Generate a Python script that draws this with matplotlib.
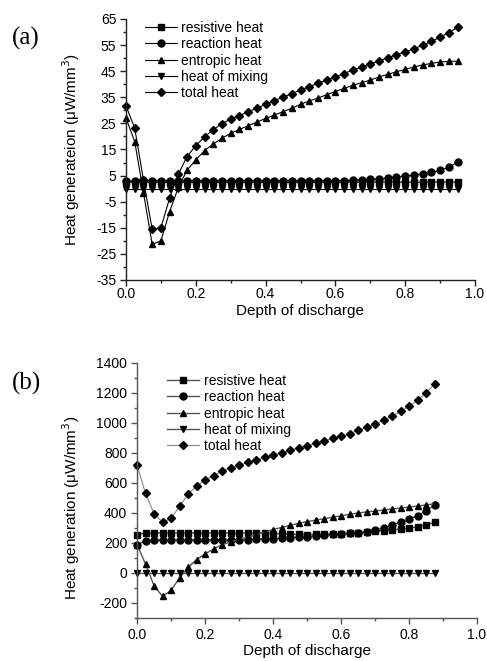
import numpy as np
import matplotlib
matplotlib.use("Agg")
import matplotlib.pyplot as plt
from matplotlib.ticker import MultipleLocator

plt.rcParams['font.family'] = ['Liberation Sans', 'DejaVu Sans']
plt.rcParams['axes.unicode_minus'] = False

# ---------------- Panel (a) data ----------------
dod_a = [round(0.025 * i, 3) for i in range(39)]
resistive_a = [2.6] + [2.5] * 38
reaction_a = [2.8, 3.0, 3.4, 3.0, 3.0, 3.0, 3.0, 3.0, 3.0, 3.0,
              3.0, 3.0, 3.0, 3.0, 3.0, 3.0, 3.0, 3.0, 3.0, 3.0,
              3.0, 3.0, 3.0, 3.0, 3.0, 3.1, 3.2, 3.4, 3.6, 3.8,
              4.1, 4.5, 4.8, 5.2, 5.7, 6.2, 7.0, 8.2, 10.2]
entropic_a = [27.0, 18.0, -1.5, -21.3, -20.0, -8.8, 0.5, 7.1, 11.0, 14.6,
              17.1, 19.3, 21.2, 22.7, 24.1, 25.5, 26.9, 28.2, 29.5, 30.8,
              32.3, 33.6, 34.7, 36.0, 37.2, 38.4, 39.6, 40.6, 41.6, 42.8,
              43.8, 44.8, 45.7, 46.6, 47.4, 48.0, 48.5, 48.8, 48.8]
mixing_a = [0.0] * 39
total_a = [31.7, 23.2, 3.3, -15.6, -15.0, -3.6, 5.6, 12.3, 16.5, 19.8,
           22.6, 24.9, 26.7, 28.0, 29.4, 30.8, 32.3, 33.7, 35.1, 36.4,
           37.8, 39.1, 40.4, 41.6, 42.9, 44.1, 45.5, 46.6, 47.8, 48.9,
           50.2, 51.3, 52.4, 53.6, 54.9, 56.4, 58.0, 59.8, 61.8]

# ---------------- Panel (b) data ----------------
dod_b = [round(0.025 * i, 3) for i in range(36)]
resistive_b = [255, 267, 267, 267, 267, 267, 267, 267, 267, 267,
               267, 267, 267, 267, 267, 265, 263, 260, 258, 257,
               256, 257, 258, 260, 262, 265, 268, 273, 278, 282,
               287, 293, 300, 307, 320, 338]
reaction_b = [190, 212, 218, 220, 220, 220, 220, 220, 220, 220,
              220, 220, 222, 223, 225, 226, 228, 231, 235, 239,
              243, 247, 252, 257, 262, 266, 270, 275, 287, 300,
              320, 340, 360, 382, 413, 452]
entropic_b = [190, 60, -84, -156, -116, -33, 38, 89, 127, 160,
              189, 207, 225, 240, 255, 270, 290, 303, 318, 331,
              342, 353, 362, 372, 381, 391, 400, 407, 413, 420,
              427, 433, 440, 447, 453, 462]
mixing_b = [0] * 36
total_b = [718, 531, 396, 338, 364, 444, 524, 580, 618, 649,
           680, 702, 720, 738, 753, 771, 787, 802, 818, 833,
           849, 864, 880, 898, 913, 929, 951, 971, 991, 1020,
           1044, 1078, 1111, 1151, 1200, 1260]

labels = ["resistive heat", "reaction heat", "entropic heat",
          "heat of mixing", "total heat"]
markers = ["s", "o", "^", "v", "D"]

W, H = 487, 661
fig = plt.figure(figsize=(W / 100, H / 100), dpi=100)


def style_axes(ax, color):
    for s in ["top", "right"]:
        ax.spines[s].set_visible(False)
    for s in ["left", "bottom"]:
        ax.spines[s].set_color(color)
        ax.spines[s].set_linewidth(1.0)
    ax.tick_params(which="both", direction="out", colors=color,
                   labelcolor="black", labelsize=10)
    ax.tick_params(which="major", length=4, width=1.0, pad=3)
    ax.tick_params(which="minor", length=2.5, width=1.0)
    ax.xaxis.set_major_locator(MultipleLocator(0.2))
    ax.xaxis.set_minor_locator(MultipleLocator(0.1))
    ax.set_xlim(0, 1.0)


# Panel (a)
ax1 = fig.add_axes([126 / W, 1 - 280 / H, (475 - 126) / W, (280 - 19) / H])
series_a = [resistive_a, reaction_a, entropic_a, mixing_a, total_a]
for ys, lab, m in zip(series_a, labels, markers):
    ax1.plot(dod_a, ys, color="black", lw=0.8, marker=m,
             ms=5 if m != "D" else 4.3, label=lab, clip_on=False)
ax1.set_ylim(-35, 65)
ax1.yaxis.set_minor_locator(MultipleLocator(5))
ax1.set_yticks(np.arange(-35, 66, 10))
style_axes(ax1, "#222222")
ax1.tick_params(axis="x", which="major", pad=1)
ax1.set_xlabel("Depth of discharge", fontsize=11, labelpad=2)
ax1.set_ylabel("Heat generateion (\u03bcW/mm$^3$)", fontsize=11)
ax1.yaxis.set_label_coords(-0.126, 0.5)
ax1.legend(loc="upper left", bbox_to_anchor=(0.03, 1.025), frameon=False,
           fontsize=10, handlelength=2.3, handletextpad=0.3,
           labelspacing=0.17, borderaxespad=0.2)
fig.text(12 / W, 1 - 38 / H, "(a)", family=["Liberation Serif"], fontsize=18,
         va="center", ha="left")

# Panel (b)
ax2 = fig.add_axes([137 / W, 1 - 618 / H, (477 - 137) / W, (618 - 363) / H])
series_b = [resistive_b, reaction_b, entropic_b, mixing_b, total_b]
for ys, lab, m in zip(series_b, labels, markers):
    if m == "D":
        ax2.plot(dod_b, ys, color="#888888", lw=0.8, marker=m, ms=4.3,
                 mfc="black", mec="black", label=lab, clip_on=False)
    else:
        ax2.plot(dod_b, ys, color="#555555", lw=1.0, marker=m, ms=5,
                 mfc="black", mec="black", label=lab, clip_on=False)
ax2.set_ylim(-300, 1400)
ax2.set_yticks(np.arange(-200, 1401, 200))
ax2.yaxis.set_minor_locator(MultipleLocator(100))
style_axes(ax2, "#555555")
ax2.tick_params(axis="x", which="major", pad=3)
ax2.set_xlabel("Depth of discharge", fontsize=11, labelpad=2)
ax2.set_ylabel("Heat generation (\u03bcW/mm$^3$)", fontsize=11)
ax2.yaxis.set_label_coords(-0.162, 0.43)
ax2.legend(loc="upper left", bbox_to_anchor=(0.065, 0.99), frameon=False,
           fontsize=10, handlelength=2.3, handletextpad=0.3,
           labelspacing=0.17, borderaxespad=0.2)
fig.text(12 / W, 1 - 383 / H, "(b)", family=["Liberation Serif"], fontsize=18,
         va="center", ha="left")

fig.savefig("out.png", dpi=100)
